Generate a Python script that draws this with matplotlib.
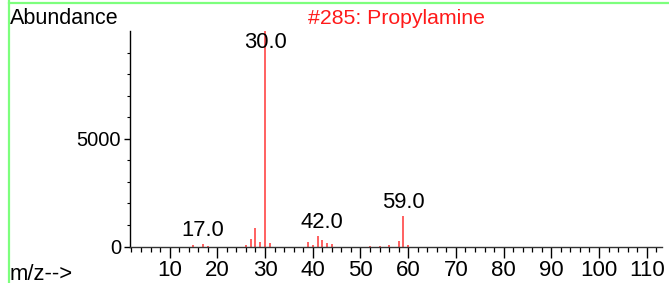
import matplotlib
matplotlib.use("Agg")
import matplotlib.pyplot as plt
from matplotlib.ticker import MultipleLocator, FixedLocator
from matplotlib.lines import Line2D

plt.rcParams['font.family'] = ['Liberation Sans', 'DejaVu Sans']

# Data
mz = [15, 17, 18, 26, 27, 28, 29, 30, 31, 39, 40, 41, 42, 43, 44, 52, 54, 56, 58, 59, 60]
abundance = [85, 120, 40, 70, 350, 880, 210, 9999, 150, 220, 65, 490, 280, 185, 125, 30, 30, 85, 265, 1420, 60]
label_mz = [17.0, 30.0, 42.0, 59.0]
title = "#285: Propylamine"
x_major = [10, 20, 30, 40, 50, 60, 70, 80, 90, 100, 110]
y_major = [0, 5000]

W, H = 669, 283
fig = plt.figure(figsize=(W / 100, H / 100), dpi=100)
ax = fig.add_axes([130 / W, 1 - 246.5 / H, (662 - 130) / W, (246.5 - 31) / H])

ymax = max(abundance)
ax.vlines(mz, 0, abundance, colors='#ff3535', linewidth=1.1, clip_on=False)
ax.set_xlim(1.7, 113.2)
ax.set_ylim(0, ymax)

for spine in ['top', 'right']:
    ax.spines[spine].set_visible(False)
ax.spines['left'].set_linewidth(1.0)
ax.spines['bottom'].set_linewidth(1.0)
ax.spines['bottom'].set_color('#333333')

ax.xaxis.set_major_locator(FixedLocator(x_major))
ax.xaxis.set_minor_locator(MultipleLocator(2))
ax.yaxis.set_major_locator(FixedLocator(y_major))
ax.yaxis.set_minor_locator(MultipleLocator(1000))
ax.tick_params(axis='x', which='major', direction='out', length=8, width=1, labelsize=16, pad=2)
ax.tick_params(axis='x', which='minor', direction='out', length=3.6, width=0.9)
ax.tick_params(axis='y', which='major', direction='out', length=4, width=1, labelsize=14.5, pad=2.5)
ax.tick_params(axis='y', which='minor', direction='out', length=2, width=0.8)

# peak labels
for lm in label_mz:
    near = [a for m, a in zip(mz, abundance) if abs(m - lm) <= 1]
    y = min(max(near), 0.885 * ymax)
    ax.annotate(f"{lm:.1f}", (lm, y), xytext=(0, 2), textcoords='offset points',
                ha='center', va='bottom', fontsize=15.8, color='black')

fig.text(10 / W, 1 - 18 / H, "Abundance", ha='left', va='center', fontsize=15.5)
fig.text(396 / W, 1 - 18 / H, title, ha='center', va='center', fontsize=15.3, color='#ff1a1a')
fig.text(10 / W, 1 - 274 / H, "m/z-->", ha='left', va='center', fontsize=15.8)

# green frame
fig.add_artist(Line2D([9.3 / W, 9.3 / W], [0, 1], color='#7dff7d', linewidth=1.6, transform=fig.transFigure))
fig.add_artist(Line2D([9.3 / W, 1], [1 - 3 / H, 1 - 3 / H], color='#7dff7d', linewidth=1.6, transform=fig.transFigure))

fig.savefig("out.png", dpi=100)
